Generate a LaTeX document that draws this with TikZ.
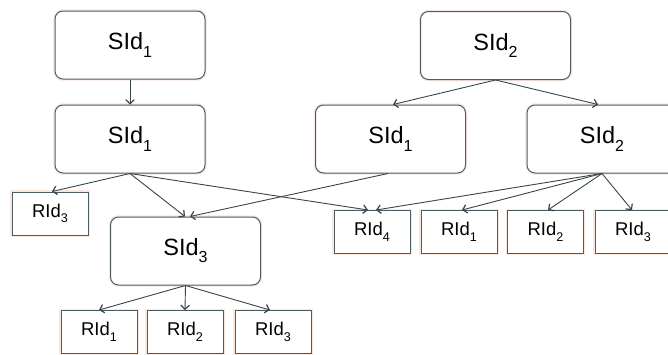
\documentclass[tikz,border=0pt]{standalone}
\usepackage{fontspec}
\setmainfont{Liberation Sans}
\usetikzlibrary{arrows.meta}
\newcommand{\idx}[2]{#1\raisebox{-0.3em}{\scalebox{0.68}{#2}}}
\definecolor{edge}{HTML}{4D5C62}
\definecolor{glow}{HTML}{FAE8DE}
\tikzset{
  sbox/.style={draw=edge, line width=1pt, rounded corners=8pt, fill=white,
    minimum width=150pt, minimum height=68pt, inner sep=0pt,
    font=\fontsize{23.5}{28}\selectfont,
    preaction={draw=glow, line width=3.4pt}},
  rbox/.style={draw=edge, line width=1pt, fill=white,
    minimum width=76pt, minimum height=43pt, inner sep=0pt,
    font=\fontsize{18.5}{22}\selectfont,
    preaction={draw=glow, line width=3.4pt}},
  link/.style={draw=edge!75!black, line width=0.9pt,
    -{Straight Barb[length=4pt,width=8.5pt,line width=1.2pt]}}
}
\begin{document}
\begin{tikzpicture}[x=1pt,y=-1pt]
\clip (0,0) rectangle (668,354);
\fill[white] (0,0) rectangle (668,354);
% upper boxes
\node[sbox] (a) at (130,45) {\idx{SId}{1}};
\node[sbox] (b) at (130,139) {\idx{SId}{1}};
\node[sbox] (c) at (495.5,45.5) {\idx{SId}{2}};
\node[sbox] (d) at (390.5,139) {\idx{SId}{1}};
\node[sbox] (e) at (602,139) {\idx{SId}{2}};
\node[sbox] (f) at (185.5,251) {\idx{SId}{3}};
% leaf boxes
\node[rbox] (l3) at (50,213.5) {\idx{RId}{3}};
\node[rbox] (f1) at (99,332) {\idx{RId}{1}};
\node[rbox] (f2) at (185,332) {\idx{RId}{2}};
\node[rbox] (f3) at (273,332) {\idx{RId}{3}};
\node[rbox] (r4) at (372,232) {\idx{RId}{4}};
\node[rbox] (r1) at (459,232) {\idx{RId}{1}};
\node[rbox] (r2) at (545.5,232) {\idx{RId}{2}};
\node[rbox] (r3) at (633,232) {\idx{RId}{3}};
% connectors
\draw[link] (a.south) -- (b.north);
\draw[link] (c.south) -- ([xshift=2.5pt]d.north);
\draw[link] (c.south) -- ([xshift=-4pt]e.north);
\draw[link] (b.south) -- ([xshift=2pt]l3.north);
\draw[link] (b.south) -- ([xshift=-0.5pt]f.north);
\draw[link] (b.south) -- ([xshift=-4pt]r4.north);
\draw[link] ([xshift=-2.5pt]d.south) -- ([xshift=4.5pt]f.north);
\draw[link] (e.south) -- ([xshift=4pt]r4.north);
\draw[link] (e.south) -- ([xshift=3pt]r1.north);
\draw[link] (e.south) -- ([xshift=2.5pt]r2.north);
\draw[link] (e.south) -- ([xshift=-1pt]r3.north);
\draw[link] (f.south) -- (f1.north);
\draw[link] (f.south) -- (f2.north);
\draw[link] (f.south) -- ([xshift=-3pt]f3.north);
\end{tikzpicture}
\end{document}
